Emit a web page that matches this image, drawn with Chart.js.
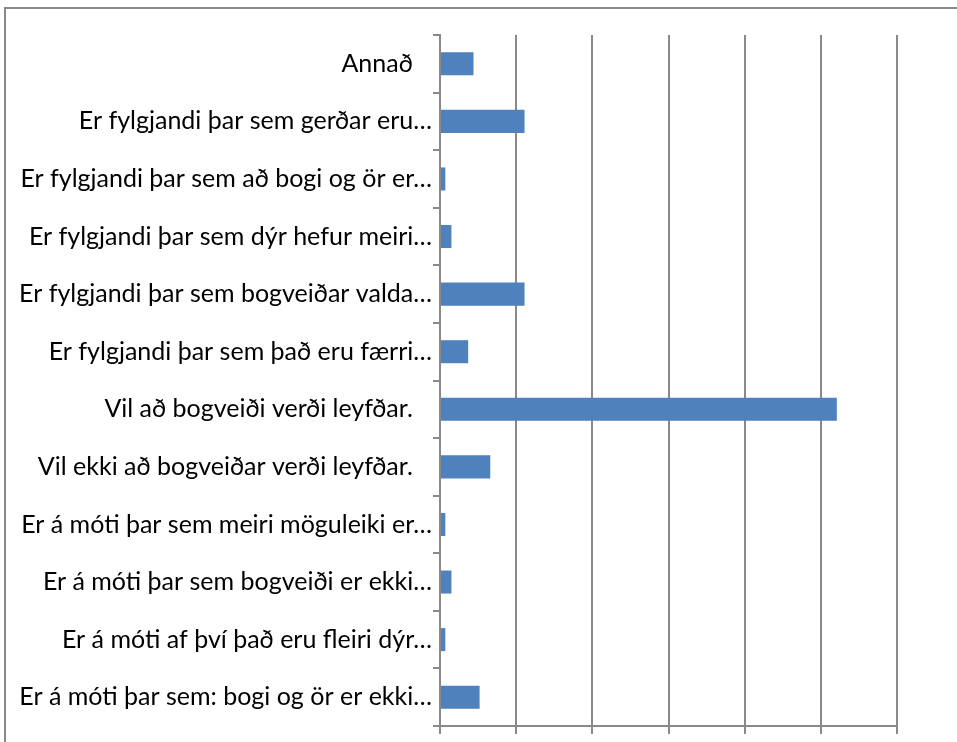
<!DOCTYPE html>
<html>
<head>
<meta charset="utf-8">
<script src="https://cdn.jsdelivr.net/npm/chart.js@4"></script>
<style>
  html, body { margin: 0; padding: 0; background: #fff; }
  #wrap { width: 957px; height: 742px; position: relative; }
</style>
</head>
<body>
<div id="wrap"><canvas id="c" width="957" height="742"></canvas></div>
<script>
const categories = [
  "Annað   ",
  "Er fylgjandi þar sem gerðar eru…",
  "Er fylgjandi þar sem að bogi og ör er…",
  "Er fylgjandi þar sem dýr hefur meiri…",
  "Er fylgjandi þar sem bogveiðar valda…",
  "Er fylgjandi þar sem það eru færri…",
  "Vil að bogveiði verði leyfðar.   ",
  "Vil ekki að bogveiðar verði leyfðar.   ",
  "Er á móti þar sem meiri möguleiki er…",
  "Er á móti þar sem bogveiði er ekki…",
  "Er á móti af því það eru fleiri dýr…",
  "Er á móti þar sem: bogi og ör er ekki…"
];
const percentValues = [4.4, 11.1, 0.7, 1.5, 11.1, 3.7, 52.1, 6.6, 0.7, 1.5, 0.7, 5.2];
const xTicks = [0, 10, 20, 30, 40, 50, 60];

const GRAY = '#898989';

const frame = {
  id: 'frame',
  afterDraw(chart) {
    const ctx = chart.ctx;
    ctx.save();
    ctx.strokeStyle = GRAY;
    ctx.lineWidth = 2;
    ctx.beginPath();
    ctx.moveTo(5, 742);
    ctx.lineTo(5, 8);
    ctx.lineTo(957, 8);
    ctx.stroke();
    ctx.restore();
  }
};

new Chart(document.getElementById('c'), {
  type: 'bar',
  data: {
    labels: categories,
    datasets: [{
      data: percentValues,
      backgroundColor: '#4f81bd',
      borderWidth: 0,
      barPercentage: 0.4,
      categoryPercentage: 1.0
    }]
  },
  options: {
    indexAxis: 'y',
    responsive: false,
    animation: false,
    devicePixelRatio: 1,
    layout: { padding: { top: 35, right: 60, bottom: 0, left: 0 } },
    plugins: { legend: { display: false }, tooltip: { enabled: false } },
    scales: {
      x: {
        min: 0, max: 60,
        afterBuildTicks(scale) { scale.ticks = xTicks.map(v => ({ value: v })); },
        ticks: { display: false },
        grid: { color: GRAY, lineWidth: 2, tickLength: 8, drawTicks: true },
        border: { color: GRAY, width: 2 }
      },
      y: {
        afterFit(scale) { scale.width = 440; },
        ticks: {
          color: '#000',
          padding: 1,
          font: { family: 'Lato', size: 25 }
        },
        grid: { offset: true, drawOnChartArea: false, color: GRAY, lineWidth: 2, tickLength: 7 },
        border: { color: GRAY, width: 2 }
      }
    }
  },
  plugins: [frame]
});
</script>
</body>
</html>
